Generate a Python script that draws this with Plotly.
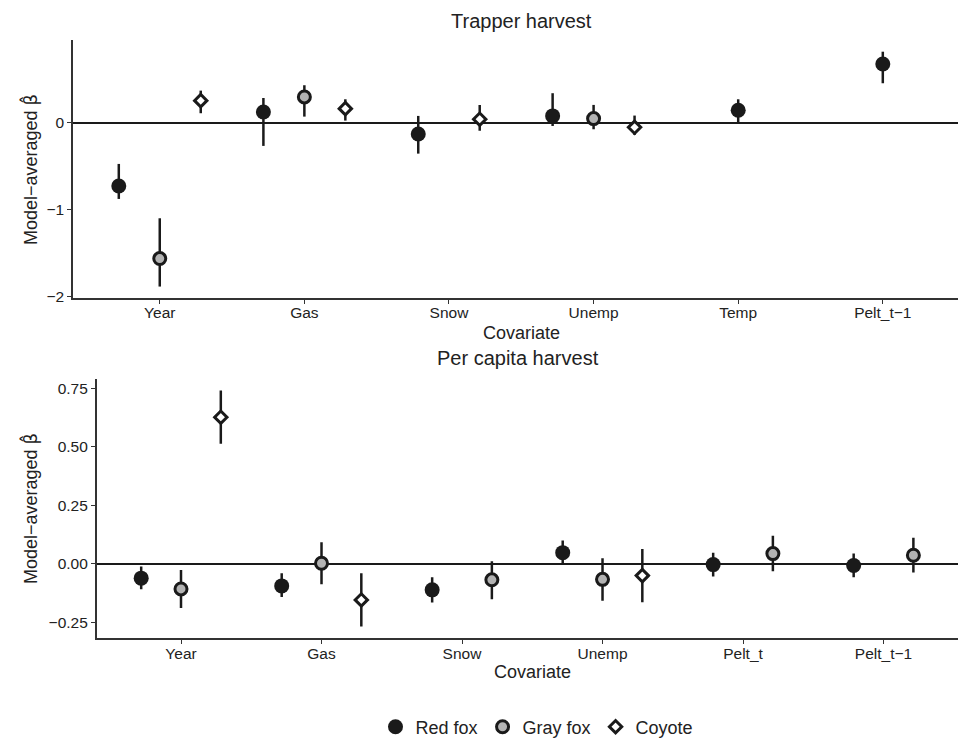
import plotly.graph_objects as go

# ---------------- data ----------------
species = ["Red fox", "Gray fox", "Coyote"]

top_categories = ["Year", "Gas", "Snow", "Unemp", "Temp", "Pelt_t\u22121"]
top_red_est = [-0.727, 0.127, -0.127, 0.081, 0.146, 0.68]
top_red_lo = [-0.877, -0.265, -0.354, -0.035, 0.004, 0.458]
top_red_hi = [-0.473, 0.288, 0.081, 0.343, 0.273, 0.822]
top_gray_est = [-1.565, 0.30, None, 0.05, None, None]
top_gray_lo = [-1.888, 0.073, None, -0.073, None, None]
top_gray_hi = [-1.10, 0.435, None, 0.208, None, None]
top_coy_est = [0.257, 0.165, 0.043, -0.05, None, None]
top_coy_lo = [0.112, 0.027, -0.09, -0.138, None, None]
top_coy_hi = [0.373, 0.273, 0.207, 0.085, None, None]

bot_categories = ["Year", "Gas", "Snow", "Unemp", "Pelt_t", "Pelt_t\u22121"]
bot_red_est = [-0.061, -0.094, -0.111, 0.048, -0.003, -0.007]
bot_red_lo = [-0.108, -0.142, -0.165, 0.0, -0.054, -0.057]
bot_red_hi = [-0.011, -0.040, -0.057, 0.100, 0.048, 0.044]
bot_gray_est = [-0.107, 0.003, -0.068, -0.066, 0.044, 0.037]
bot_gray_lo = [-0.188, -0.087, -0.151, -0.157, -0.031, -0.037]
bot_gray_hi = [-0.026, 0.093, 0.011, 0.024, 0.12, 0.112]
bot_coy_est = [0.627, -0.154, None, -0.05, None, None]
bot_coy_lo = [0.513, -0.268, None, -0.164, None, None]
bot_coy_hi = [0.741, -0.040, None, 0.064, None, None]

top_yticks = [-2, -1, 0]
bot_yticks = [-0.25, 0.0, 0.25, 0.5, 0.75]

# ---------------- styles ----------------
DARK = "#1a1a1a"
GRAY = "#b3b3b3"
FONT = "Liberation Sans, Arial, sans-serif"
DODGE = 0.85
styles = {
    "Red fox": dict(symbol="circle", size=15, color=DARK, line=dict(color=DARK, width=0)),
    "Gray fox": dict(symbol="circle", size=12, color=GRAY, line=dict(color=DARK, width=3)),
    "Coyote": dict(symbol="diamond", size=9.5, color="white", line=dict(color=DARK, width=3)),
}


def dodge_positions(series_list):
    """ggplot-like position_dodge: returns x positions for each series."""
    ncat = len(series_list[0])
    out = [[None] * ncat for _ in series_list]
    for c in range(ncat):
        present = [s for s in range(len(series_list)) if series_list[s][c] is not None]
        n = len(present)
        for k, s in enumerate(present):
            off = -DODGE / 2 + DODGE / (2 * n) + k * DODGE / n
            out[s][c] = (c + 1) + off
    return out


fig = go.Figure()


def add_panel(ests, los, his, xaxis, yaxis, showlegend):
    xs = dodge_positions(ests)
    for sp, est, lo, hi, x in zip(species, ests, los, his, xs):
        xx, yy, plus, minus = [], [], [], []
        for xi, e, l, h in zip(x, est, lo, hi):
            if e is None:
                continue
            xx.append(xi)
            yy.append(e)
            plus.append(h - e)
            minus.append(e - l)
        fig.add_trace(go.Scatter(
            x=xx, y=yy, mode="markers", name=sp, xaxis=xaxis, yaxis=yaxis,
            showlegend=showlegend, legendgroup=sp,
            marker=styles[sp],
            error_y=dict(type="data", array=plus, arrayminus=minus, symmetric=False,
                         thickness=2.5, width=0, color=DARK),
        ))


add_panel([top_red_est, top_gray_est, top_coy_est],
          [top_red_lo, top_gray_lo, top_coy_lo],
          [top_red_hi, top_gray_hi, top_coy_hi], "x", "y", True)
add_panel([bot_red_est, bot_gray_est, bot_coy_est],
          [bot_red_lo, bot_gray_lo, bot_coy_lo],
          [bot_red_hi, bot_gray_hi, bot_coy_hi], "x2", "y2", False)

H = 739.0
W = 958.0
axis_common = dict(showline=True, linecolor="#333", linewidth=1.5, ticks="outside",
                   ticklen=4, tickcolor="#333", tickwidth=1.2, showgrid=False,
                   tickfont=dict(family=FONT, size=15.5, color="#222"))

fig.update_layout(
    width=958, height=739, margin=dict(l=0, r=0, t=0, b=0, autoexpand=False),
    paper_bgcolor="white", plot_bgcolor="white",
    font=dict(family=FONT, color="#222"),
    xaxis=dict(domain=[73 / W, 1.0], range=[0.4, 6.52], anchor="y",
               tickvals=list(range(1, len(top_categories) + 1)), ticktext=top_categories,
               zeroline=False, ticklabelstandoff=-4, **axis_common),
    yaxis=dict(domain=[1 - 298 / H, 1 - 40 / H], range=[-2.02, 0.957], anchor="x",
               tickvals=top_yticks, zeroline=True, zerolinecolor=DARK, zerolinewidth=2,
               **axis_common),
    xaxis2=dict(domain=[96.7 / W, 1.0], range=[0.4, 6.53], anchor="y2",
                tickvals=list(range(1, len(bot_categories) + 1)), ticktext=bot_categories,
                zeroline=False, ticklabelstandoff=-4, **axis_common),
    yaxis2=dict(domain=[1 - 638.3 / H, 1 - 379.3 / H], range=[-0.318, 0.789], anchor="x2",
                tickvals=bot_yticks, tickformat=".2f", zeroline=True, zerolinecolor=DARK,
                zerolinewidth=2, **axis_common),
    legend=dict(orientation="h", x=537 / W, xanchor="center", y=1 - 727 / H, yanchor="middle",
                font=dict(family=FONT, size=18, color="#222"), bgcolor="rgba(0,0,0,0)"),
)

ann_font = dict(family=FONT, size=18, color="#222")
ylab = "Model\u2212averaged <span style='font-family:DejaVu Sans'>\u03b2\u0302</span>"
annotations = [
    dict(text="Trapper harvest", x=521 / W, y=1 - 21 / H, font=dict(family=FONT, size=20, color="#222")),
    dict(text="Per capita harvest", x=518 / W, y=1 - 358 / H, font=dict(family=FONT, size=20, color="#222")),
    dict(text="Covariate", x=521 / W, y=1 - 333 / H, font=ann_font),
    dict(text="Covariate", x=532 / W, y=1 - 672 / H, font=ann_font),
    dict(text=ylab, x=30 / W, y=1 - 170 / H, textangle=-90, font=ann_font),
    dict(text=ylab, x=30 / W, y=1 - 509 / H, textangle=-90, font=ann_font),
]
for a in annotations:
    fig.add_annotation(xref="paper", yref="paper", showarrow=False,
                       xanchor="center", yanchor="middle", **a)

fig.write_html("out.html")
